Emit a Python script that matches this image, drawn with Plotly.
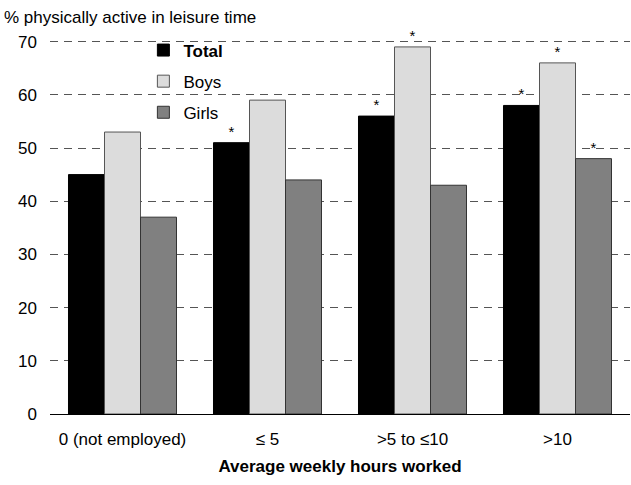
import plotly.graph_objects as go

categories = ["0 (not employed)", "≤ 5", ">5 to ≤10", ">10"]
total = [45, 51, 56, 58]
boys = [53, 59, 69, 66]
girls = [37, 44, 43, 48]
total_sig = ["", "*", "*", "*"]
boys_sig = ["", "", "*", "*"]
girls_sig = ["", "", "", "*"]
y_ticks = [0, 10, 20, 30, 40, 50, 60, 70]

FONT = "Liberation Sans Narrow, Arial Narrow, Liberation Sans, Arial, sans-serif"

fig = go.Figure()
series = [
    ("<b>Total</b>", total, total_sig, "#000000", "#000000", "g1"),
    ("Boys", boys, boys_sig, "#dcdcdc", "#555555", "g2"),
    ("Girls", girls, girls_sig, "#808080", "#333333", "g3"),
]
for name, vals, sig, fill, line, grp in series:
    fig.add_trace(go.Bar(
        x=categories, y=vals, name=name, legendgroup=grp,
        marker=dict(color=fill, line=dict(color=line, width=1)),
        text=sig, textposition="outside", cliponaxis=False,
        textfont=dict(size=15, color="#000000", family=FONT),
    ))

fig.update_layout(
    width=631, height=485,
    margin=dict(l=50, r=1, t=40, b=71),
    plot_bgcolor="white", paper_bgcolor="white",
    barmode="group", bargap=0.255, bargroupgap=0,
    font=dict(family=FONT, size=17, color="#000000"),
    showlegend=True,
    legend=dict(x=0.161, y=1.02, xanchor="left", yanchor="top",
                bgcolor="rgba(0,0,0,0)", tracegroupgap=6,
                font=dict(size=17, family=FONT)),
    xaxis=dict(showline=True, linecolor="#000000", linewidth=1, ticks="",
               ticklabelstandoff=10,
               title=dict(text="<b>Average weekly hours worked</b>", standoff=11,
                          font=dict(size=17, family=FONT)),
               tickfont=dict(size=17)),
    yaxis=dict(range=[0, 70.3], tickvals=y_ticks, showgrid=True, gridcolor="#555555",
               griddash="8px,6px", gridwidth=1, zeroline=False, showline=False,
               ticks="", ticklabelstandoff=12, tickfont=dict(size=17)),
    annotations=[dict(text="% physically active in leisure time", x=-0.083, y=1.092,
                      xref="paper", yref="paper", xanchor="left", yanchor="top",
                      showarrow=False, font=dict(size=17, family=FONT))],
)

fig.write_html("out.html", config={"displayModeBar": False},
               post_script="document.body.style.margin='0';document.body.style.overflow='hidden';")
